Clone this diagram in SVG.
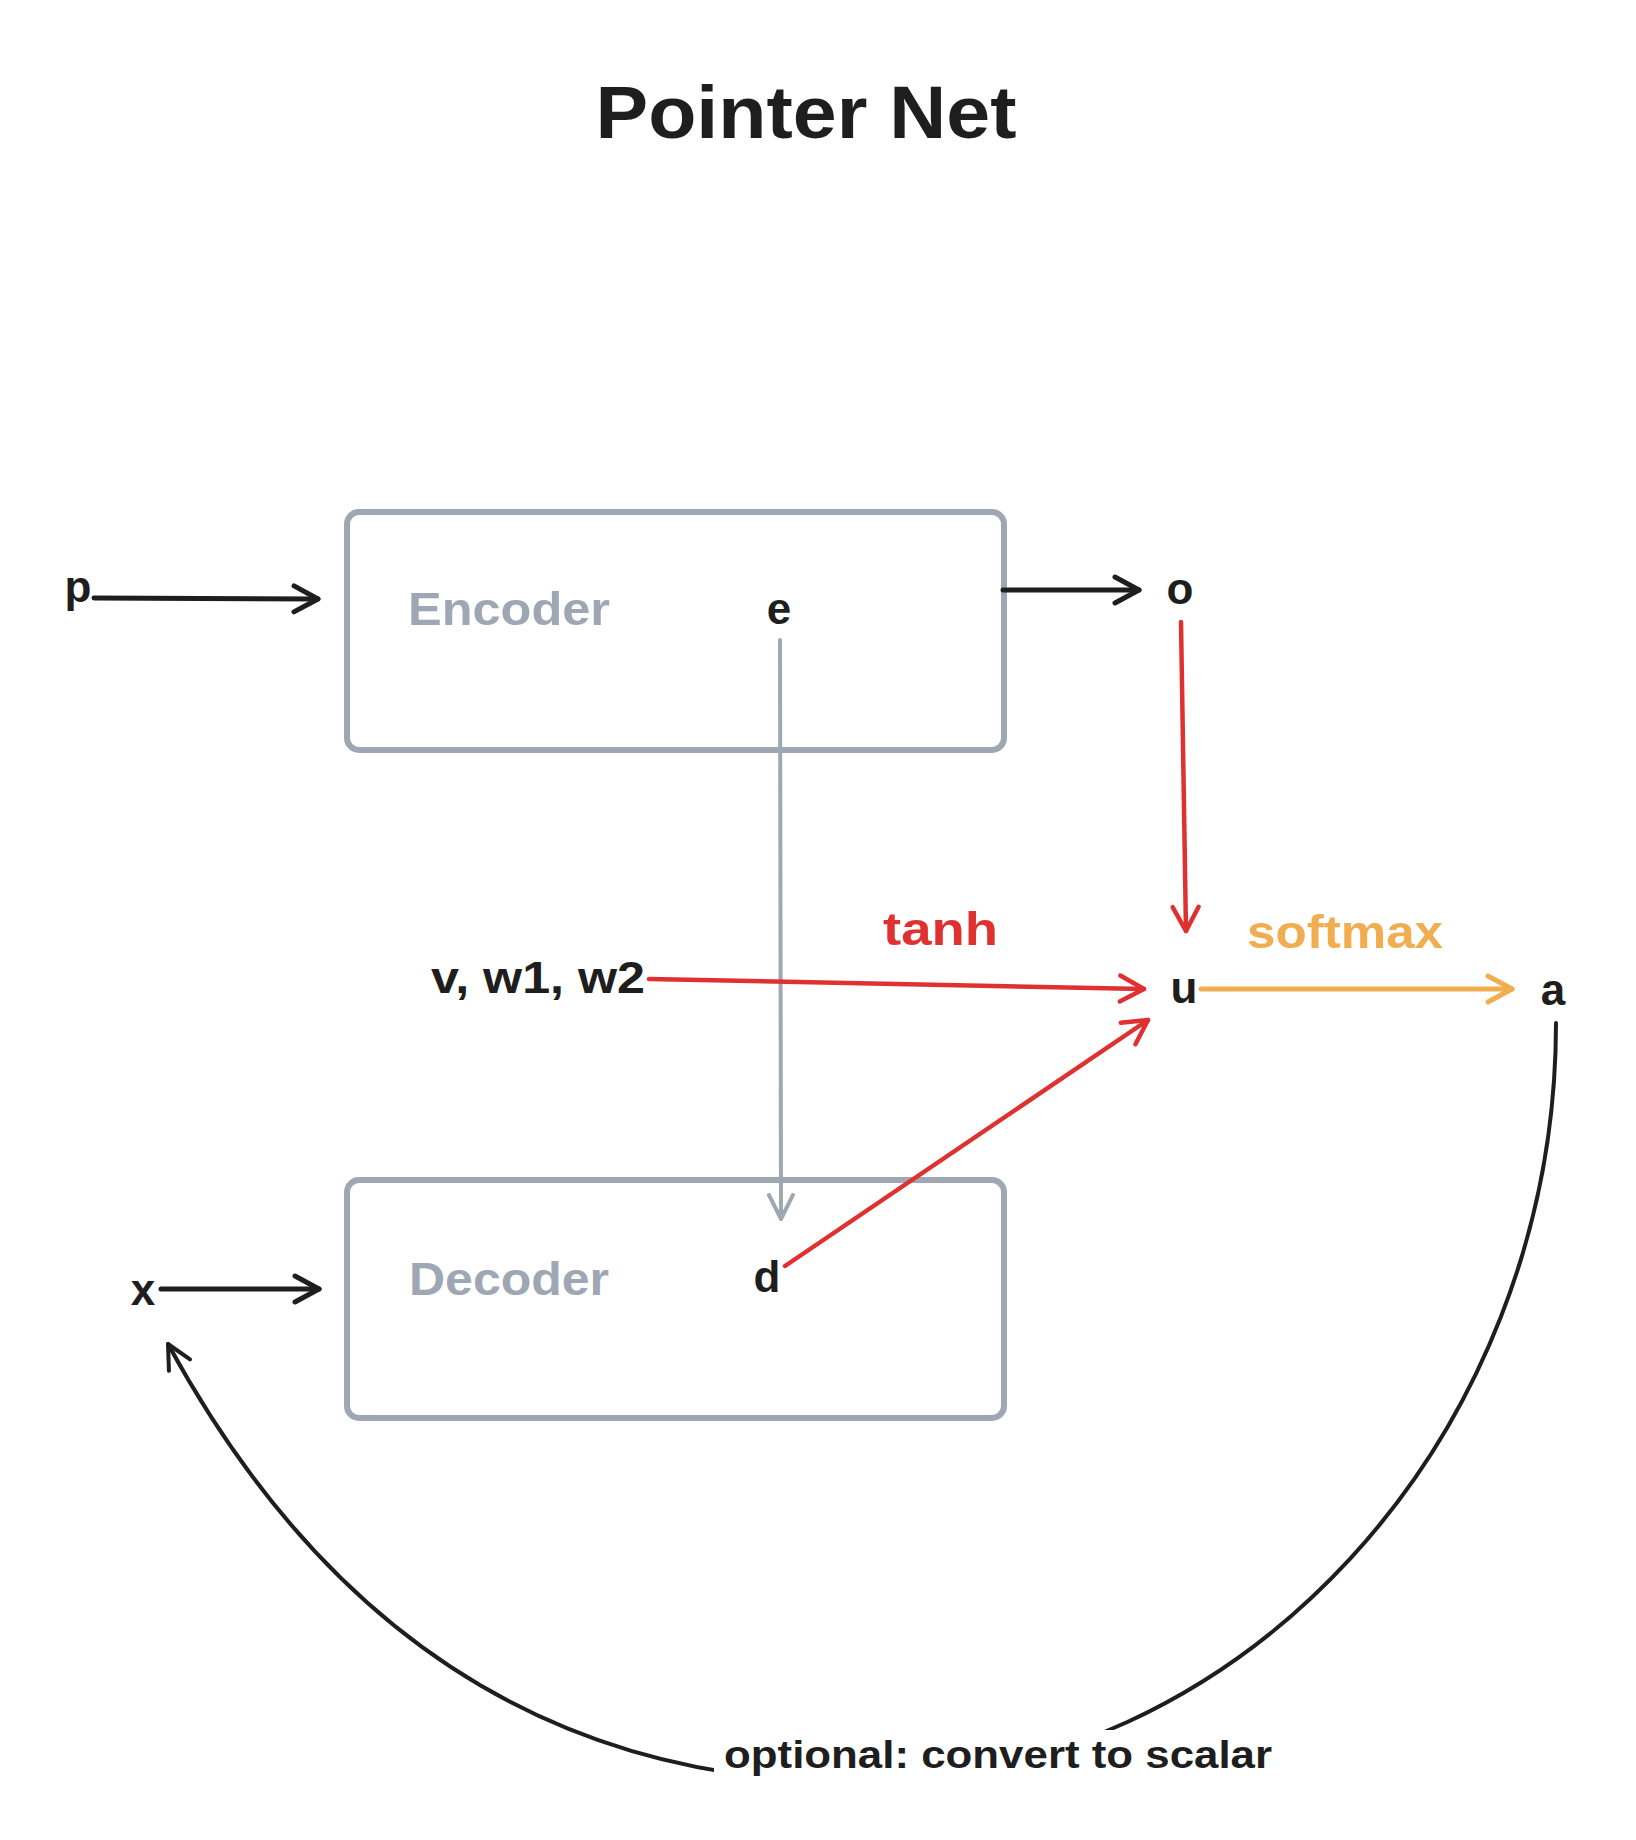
<svg xmlns="http://www.w3.org/2000/svg" width="1636" height="1840" viewBox="0 0 1636 1840">
<style>
text{font-family:"Liberation Sans",Arial,sans-serif;font-weight:bold}
.t{fill:#1e1e1e;font-size:44px;text-anchor:middle}
.box{fill:none;stroke:#9ea7b3;stroke-width:6}
.boxlbl{fill:#9ea7b3;font-size:46px}
.c{fill:none;stroke-linecap:round;stroke-linejoin:round}
.k{stroke:#1e1e1e;stroke-width:5}
.r{stroke:#e03131;stroke-width:4.5}
.g{stroke:#9ea7b3;stroke-width:4}
.y{stroke:#f0ae50;stroke-width:5}
.cv{stroke:#1e1e1e;stroke-width:4}
</style>
<defs>
<marker id="ak" markerUnits="userSpaceOnUse" viewBox="-30 -18 34 36" refX="0" refY="0" markerWidth="34" markerHeight="36" orient="auto" overflow="visible"><path d="M-24,-13 L0,0 L-24,13" fill="none" stroke="#1e1e1e" stroke-width="5" stroke-linecap="round" stroke-linejoin="round"/></marker>
<marker id="ar" markerUnits="userSpaceOnUse" viewBox="-30 -18 34 36" refX="0" refY="0" markerWidth="34" markerHeight="36" orient="auto" overflow="visible"><path d="M-24,-13 L0,0 L-24,13" fill="none" stroke="#e03131" stroke-width="4.5" stroke-linecap="round" stroke-linejoin="round"/></marker>
<marker id="ag" markerUnits="userSpaceOnUse" viewBox="-30 -18 34 36" refX="0" refY="0" markerWidth="34" markerHeight="36" orient="auto" overflow="visible"><path d="M-24,-12 L0,0 L-24,12" fill="none" stroke="#9ea7b3" stroke-width="4" stroke-linecap="round" stroke-linejoin="round"/></marker>
<marker id="ay" markerUnits="userSpaceOnUse" viewBox="-30 -18 34 36" refX="0" refY="0" markerWidth="34" markerHeight="36" orient="auto" overflow="visible"><path d="M-24,-13 L0,0 L-24,13" fill="none" stroke="#f0ae50" stroke-width="5" stroke-linecap="round" stroke-linejoin="round"/></marker>
<marker id="ac" markerUnits="userSpaceOnUse" viewBox="-30 -18 34 36" refX="0" refY="0" markerWidth="34" markerHeight="36" orient="auto" overflow="visible"><path d="M-24,-12 L0,0 L-24,12" fill="none" stroke="#1e1e1e" stroke-width="4" stroke-linecap="round" stroke-linejoin="round"/></marker>
</defs>
<rect width="1636" height="1840" fill="#ffffff"/>
<g id="title"><text x="806" y="138" font-size="74" fill="#1e1e1e" text-anchor="middle" textLength="421" lengthAdjust="spacingAndGlyphs">Pointer Net</text></g>
<g id="encoder"><rect class="box" x="347" y="512" width="657" height="238" rx="12"/><text class="boxlbl" x="408" y="625" textLength="202" lengthAdjust="spacingAndGlyphs">Encoder</text></g>
<g id="decoder"><rect class="box" x="347" y="1180" width="657" height="238" rx="12"/><text class="boxlbl" x="409" y="1295" textLength="200" lengthAdjust="spacingAndGlyphs">Decoder</text></g>
<g id="node-p"><text class="t" x="78" y="602">p</text></g>
<g id="node-o"><text class="t" x="1180" y="604">o</text></g>
<g id="node-e"><text class="t" x="779" y="624">e</text></g>
<g id="node-u"><text class="t" x="1184" y="1003">u</text></g>
<g id="node-a"><text class="t" x="1553" y="1005">a</text></g>
<g id="node-d"><text class="t" x="767" y="1292">d</text></g>
<g id="node-x"><text class="t" x="143" y="1305">x</text></g>
<g id="node-params"><text class="t" x="538" y="993" textLength="214" lengthAdjust="spacingAndGlyphs">v, w1, w2</text></g>
<g id="connectors">
<line class="c k" x1="94" y1="598" x2="318" y2="599" marker-end="url(#ak)"/>
<line class="c k" x1="1003" y1="590" x2="1139" y2="590" marker-end="url(#ak)"/>
<line class="c g" x1="780" y1="640" x2="781" y2="1219" marker-end="url(#ag)"/>
<line class="c r" x1="1181" y1="622" x2="1186" y2="931" marker-end="url(#ar)"/>
<line class="c r" x1="649" y1="979" x2="1144" y2="989" marker-end="url(#ar)"/>
<line class="c r" x1="785" y1="1266" x2="1148" y2="1020" marker-end="url(#ar)"/>
<line class="c y" x1="1201" y1="989" x2="1512" y2="989" marker-end="url(#ay)"/>
<line class="c k" x1="161" y1="1289" x2="319" y2="1289" marker-end="url(#ak)"/>
<path class="c cv" d="M1556,1023 C1556,1440 1240,1782 856,1782 C530,1782 313,1610 168,1344" marker-end="url(#ac)"/>
<rect x="714" y="1730" width="575" height="64" fill="#ffffff"/>
<text x="883" y="945" font-size="46" fill="#e03131" textLength="115" lengthAdjust="spacingAndGlyphs">tanh</text>
<text x="1247" y="948" font-size="46" fill="#f0ae50" textLength="196" lengthAdjust="spacingAndGlyphs">softmax</text>
<text x="724" y="1768" font-size="38" fill="#1e1e1e" textLength="548" lengthAdjust="spacingAndGlyphs">optional: convert to scalar</text>
</g>
</svg>
